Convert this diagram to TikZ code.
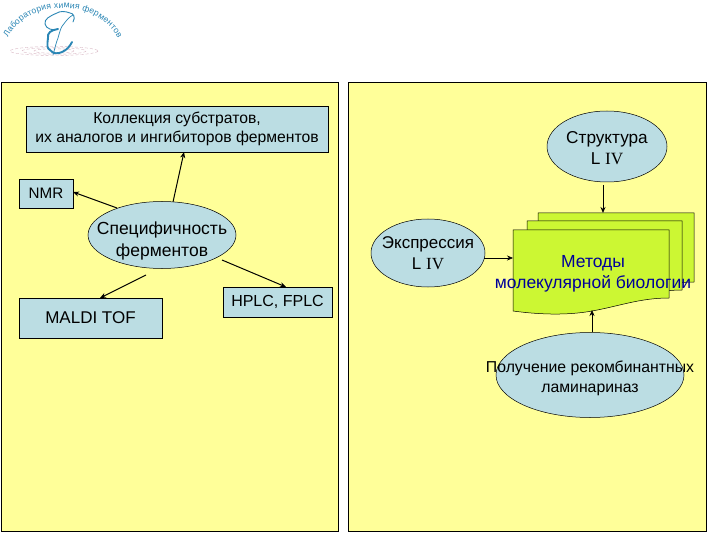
\documentclass[tikz,border=0pt]{standalone}
\usepackage{fontspec}
\setmainfont{Liberation Sans}
\newfontfamily\romfont{Liberation Serif}
\usetikzlibrary{shapes.geometric,arrows.meta,decorations.text}
\definecolor{paneyellow}{HTML}{FFFF99}
\definecolor{boxblue}{HTML}{BBDDE3}
\definecolor{docgreen}{HTML}{CCF733}
\definecolor{doctext}{HTML}{000099}
\definecolor{logoblue}{HTML}{2A86B5}
\definecolor{logopink}{HTML}{D9B8C4}
\newcommand{\ovaltext}[3]{\raisebox{-#1pt}[0pt][0pt]{\makebox[0pt]{\begin{tabular}{@{}c@{}}#2\\#3\end{tabular}}}}
\newcommand{\romiv}{{\romfont IV}}
\tikzset{
  pane/.style={draw=black,fill=paneyellow,line width=.8pt},
  rbox/.style={draw=black,fill=boxblue,line width=.5pt,rectangle,align=center,inner sep=0pt,anchor=center},
  oval/.style={draw=black,fill=boxblue,line width=.5pt,ellipse,inner sep=0pt,anchor=center},
  conn/.style={draw=black,line width=1pt,-{Stealth[length=6pt,width=5pt]}},
  thinconn/.style={draw=black,line width=.6pt,-{Stealth[length=6pt,width=5pt]}},
  docpage/.style={draw=black,fill=docgreen,line width=.5pt},
  ripple/.style={draw=logopink,line width=.4pt,densely dashed},
  estroke/.style={draw=logoblue,line cap=round,line join=round}
}
\begin{document}
\begin{tikzpicture}[x=1pt,y=-1pt]
\useasboundingbox (0,0) rectangle (720,540);
\fill[white] (0,0) rectangle (720,540);
% logo
\foreach \r/\s in {44/4.5,32/3.3,20/2.2}{\draw[ripple] (54,51) ellipse ({\r} and {\s});}
\path[decorate,decoration={text along path,text align={fit to path},
  text={|\fontsize{8.6}{10}\selectfont\color{logoblue}|Лаборатория химия ферментов}}]
  (8,38) .. controls (28,-2) and (96,-2) .. (118,38);
\draw[estroke,line width=.9pt] (73,22) .. controls (76,17) and (73,13) .. (70,13) .. controls (65,11) and (60,11) .. (57,13) .. controls (50,16) and (44,19) .. (45,24) .. controls (46,29) and (53,31) .. (58,29);
\draw[estroke,line width=1.9pt] (58,29) .. controls (51,30) and (47,33) .. (48,38) .. controls (47,45) and (47,49) .. (50,50);
\draw[estroke,line width=1.9pt] (50,50) .. controls (53,54) and (58,54) .. (62,52) .. controls (67,50) and (70,46) .. (72,42);
\draw[estroke,line width=.7pt] (53,55) .. controls (55,48) and (56,43) .. (58,38) .. controls (60,31) and (61,27) .. (63,25) .. controls (66,21) and (69,17) .. (73,15);
% panels
\node[pane,rectangle,minimum width=337pt,minimum height=449pt,inner sep=0pt] (left) at (169.5,306.5) {};
\node[pane,rectangle,minimum width=358pt,minimum height=449pt,inner sep=0pt] (right) at (527,306.5) {};
% left
\node[rbox,minimum width=302pt,minimum height=46pt,font=\fontsize{15.7}{19}\selectfont] (coll) at (177,129) {Коллекция субстратов,\\их аналогов и ингибиторов ферментов};
\node[rbox,minimum width=54pt,minimum height=29pt,font=\fontsize{15.2}{19}\selectfont] (nmr) at (46,193.5) {NMR};
\node[oval,minimum width=148pt,minimum height=67pt,font=\fontsize{17.5}{22}\selectfont] (spec) at (162,235) {\ovaltext{10}{Специфичность}{ферментов}};
\node[rbox,minimum width=143pt,minimum height=40pt,font=\fontsize{17}{19}\selectfont] (maldi) at (90.5,318) {MALDI TOF};
\node[rbox,minimum width=109pt,minimum height=30pt,font=\fontsize{16}{19}\selectfont] (hplc) at (277.5,302) {HPLC, FPLC};
\draw[conn] ([shift={(11,-33)}]spec.center) -- ([shift={(7,23)}]coll.center);
\draw[conn] ([shift={(-45,-27)}]spec.center) -- ([shift={(27,-1.5)}]nmr.center);
\draw[conn] ([shift={(-16,40)}]spec.center) -- ([shift={(9.5,-20)}]maldi.center);
\draw[conn] ([shift={(60,25)}]spec.center) -- ([shift={(8.5,-15)}]hplc.center);
% right
\draw[docpage] (538,213) -- (694,213) -- (694,282) .. controls (668,282) and (645,290) .. (625,292) -- (538,292) -- cycle;
\draw[docpage] (527,221) -- (682,221) -- (682,290) .. controls (656,290) and (633,298) .. (613,300) -- (527,300) -- cycle;
\draw[docpage] (513,230) -- (669,230) -- (669,298) .. controls (640,298) and (620,306) .. (592,311) .. controls (565,316) and (535,314) .. (513,311) -- cycle;
\coordinate (methodsw) at (513,258);
\coordinate (methodsn) at (603,213);
\coordinate (methodss) at (592,310);
\node[font=\fontsize{17.5}{21.5}\selectfont,text=doctext,align=center,inner sep=0pt] (methods) at (593,274) {Методы\\молекулярной биологии};
\node[oval,minimum width=120pt,minimum height=71pt,font=\fontsize{17.2}{21}\selectfont] (struct) at (607,146.5) {\ovaltext{8}{Структура}{L \romiv}};
\node[oval,minimum width=114pt,minimum height=68pt,font=\fontsize{17}{21.5}\selectfont] (expr) at (428,253) {\ovaltext{6}{Экспрессия}{L \romiv}};
\node[oval,minimum width=188pt,minimum height=85pt,font=\fontsize{15.8}{19.5}\selectfont] (recomb) at (590,375) {\ovaltext{7}{Получение рекомбинантных}{ламинариназ}};
\draw[conn] ([shift={(-4,38.5)}]struct.center) -- (methodsn);
\draw[thinconn] ([shift={(56,5)}]expr.center) -- (methodsw);
\draw[thinconn] ([shift={(2,-43)}]recomb.center) -- (methodss);
\end{tikzpicture}
\end{document}
